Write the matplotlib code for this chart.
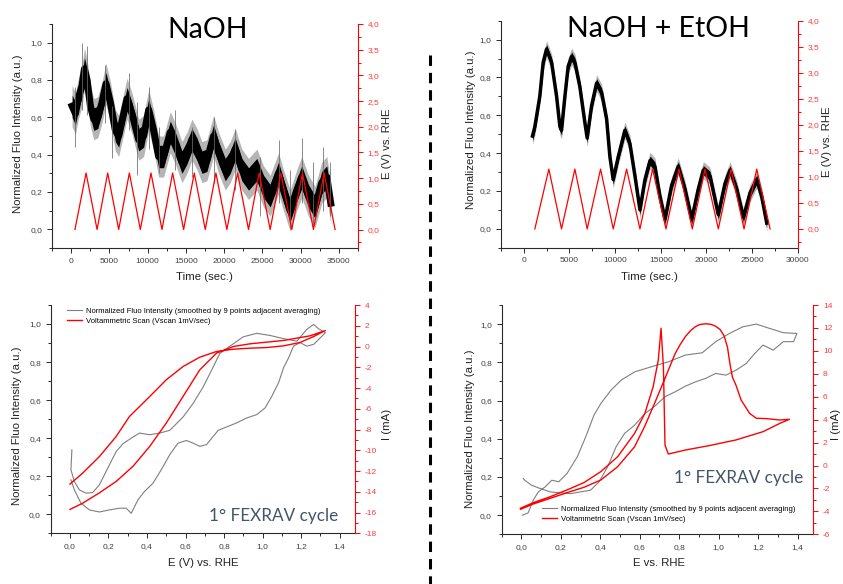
import matplotlib
matplotlib.use("Agg")
import matplotlib.pyplot as plt
from matplotlib.ticker import MultipleLocator, FuncFormatter
from matplotlib.lines import Line2D

# ---------------- DATA ----------------
# Top-left (NaOH): fluorescence band centre (time s, normalized intensity)
tl_t = [130, 560, 1000, 1430, 1740, 2090, 2520, 2960, 3480, 4040, 4560, 5130, 5780, 6220,
        6870, 7310, 7960, 8830, 9480, 10140, 10790, 11440, 12090, 12960, 13620, 14490, 15140,
        15790, 16450, 17100, 17750, 18620, 19280, 20150, 20800, 21450, 22320, 23190, 24280,
        25150, 26020, 27110, 27760, 28630, 29500, 30150, 31020, 31890, 32760, 33420, 33940]
tl_v = [0.66, 0.62, 0.71, 0.77, 0.86, 0.80, 0.66, 0.59, 0.60, 0.68, 0.78, 0.68, 0.53, 0.50,
        0.62, 0.70, 0.62, 0.48, 0.50, 0.64, 0.53, 0.39, 0.39, 0.52, 0.46, 0.36, 0.41,
        0.48, 0.43, 0.36, 0.37, 0.50, 0.41, 0.32, 0.36, 0.43, 0.32, 0.27, 0.32,
        0.23, 0.18, 0.30, 0.21, 0.10, 0.21, 0.28, 0.18, 0.12, 0.25, 0.28, 0.14]
# noise spikes (time, low, high)
tl_spk_t = [560, 1430, 2090, 4480, 5350, 7520, 8610, 10140, 11440, 13620, 15790, 18620,
            21450, 24710, 27110, 28630, 30150, 31680, 32980, 33850]
tl_spk_lo = [0.44, 0.64, 0.61, 0.57, 0.38, 0.53, 0.29, 0.43, 0.30, 0.32, 0.28, 0.25,
             0.21, 0.07, 0.14, 0.00, 0.14, 0.01, 0.10, 0.07]
tl_spk_hi = [0.76, 1.00, 0.98, 0.88, 0.66, 0.84, 0.68, 0.76, 0.55, 0.64, 0.55, 0.60,
             0.54, 0.39, 0.48, 0.32, 0.49, 0.36, 0.44, 0.36]
# Top-left potential triangle vertices (time s, E V)
tl_e_t = [500, 1954, 3390, 4782, 6218, 7611, 9047, 10440, 11876, 13268, 14704, 16097, 17533,
          18926, 20361, 21754, 23190, 24582, 26018, 27411, 28847, 30239, 31675, 33068, 34504]
tl_e_v = [0.0, 1.1, 0.0, 1.1, 0.0, 1.1, 0.0, 1.1, 0.0, 1.1, 0.0, 1.1, 0.0,
          1.1, 0.0, 1.1, 0.0, 1.1, 0.0, 1.1, 0.0, 1.1, 0.0, 1.1, 0.0]

# Top-right (NaOH + EtOH)
tr_t = [950, 1210, 1750, 2120, 2490, 3040, 3590, 3950, 4130, 4500, 4860, 5230, 5590, 6140,
        6690, 6940, 7420, 7970, 8520, 9070, 9430, 9790, 10340, 11070, 11620, 12170, 12720,
        13270, 13820, 14360, 14910, 15460, 16190, 16920, 17650, 18390, 19110, 19660, 20390,
        21300, 22040, 22590, 23320, 24050, 24780, 25510, 26060, 26610]
tr_v = [0.49, 0.54, 0.70, 0.88, 0.95, 0.88, 0.70, 0.54, 0.52, 0.70, 0.86, 0.91, 0.88, 0.75,
        0.56, 0.48, 0.65, 0.77, 0.72, 0.58, 0.38, 0.26, 0.38, 0.52, 0.45, 0.28, 0.10,
        0.26, 0.36, 0.33, 0.17, 0.05, 0.23, 0.33, 0.21, 0.05, 0.21, 0.31, 0.28,
        0.075, 0.24, 0.31, 0.21, 0.06, 0.19, 0.26, 0.17, 0.03]
tr_e_t = [1206, 2741, 4130, 5592, 6944, 8406, 9795, 11257, 12719, 14108, 15570, 16996, 18457,
          19846, 21308, 22697, 24123, 25512, 26974]
tr_e_v = [0.0, 1.15, 0.0, 1.15, 0.0, 1.15, 0.0, 1.15, 0.0, 1.15, 0.0, 1.15, 0.0,
          1.15, 0.0, 1.15, 0.0, 1.15, 0.0]

# Bottom-left (NaOH, 1st FEXRAV cycle)
bl_cv_E = [0.0, 0.066, 0.153, 0.24, 0.327, 0.414, 0.50, 0.587, 0.674, 0.761, 0.848, 0.935,
           1.108, 1.247, 1.326, 1.265, 1.195, 1.108, 1.022, 0.935, 0.848, 0.761, 0.674,
           0.587, 0.50, 0.414, 0.309, 0.24, 0.153, 0.066, 0.0]
bl_cv_I = [-15.7, -15.1, -14.1, -13.0, -11.55, -9.63, -7.38, -4.82, -2.25, -0.64, 0.0, 0.26,
           0.58, 1.03, 1.54, 0.96, 0.39, 0.06, -0.1, -0.16, -0.26, -0.48, -1.03,
           -1.93, -3.21, -4.82, -6.74, -8.67, -10.6, -12.2, -13.26]
bl_fl_E = [0.010, 0.005, 0.023, 0.049, 0.083, 0.118, 0.153, 0.205, 0.240, 0.275, 0.327, 0.361,
           0.414, 0.466, 0.518, 0.587, 0.639, 0.692, 0.744, 0.778, 0.831, 0.900, 0.970, 1.039,
           1.109, 1.178, 1.230, 1.265, 1.291, 1.326,
           1.300, 1.265, 1.230, 1.195, 1.161, 1.135, 1.109, 1.083, 1.048, 1.013, 0.970, 0.917,
           0.865, 0.813, 0.770, 0.744, 0.709, 0.674, 0.639, 0.605, 0.561, 0.518, 0.474, 0.431,
           0.387, 0.353, 0.318, 0.292, 0.257, 0.205, 0.153, 0.101, 0.057, 0.023, 0.005]
bl_fl_v = [0.339, 0.234, 0.172, 0.128, 0.111, 0.114, 0.155, 0.260, 0.330, 0.371, 0.406, 0.427,
           0.418, 0.427, 0.441, 0.511, 0.582, 0.670, 0.775, 0.845, 0.884, 0.933, 0.951, 0.940,
           0.923, 0.910, 0.972, 0.998, 0.975, 0.954,
           0.928, 0.893, 0.884, 0.902, 0.884, 0.822, 0.770, 0.691, 0.620, 0.559, 0.524, 0.506,
           0.480, 0.459, 0.441, 0.410, 0.366, 0.357, 0.374, 0.388, 0.374, 0.313, 0.234, 0.163,
           0.120, 0.076, 0.005, 0.032, 0.032, 0.023, 0.012, 0.023, 0.058, 0.128, 0.181]

# Bottom-right (NaOH + EtOH, 1st FEXRAV cycle)
br_cv_E = [-0.005, 0.06, 0.146, 0.231, 0.317, 0.403, 0.488, 0.574, 0.626, 0.668, 0.694, 0.708,
           0.72, 0.728, 0.745, 0.831, 0.951, 1.088, 1.225, 1.311, 1.359,
           1.311, 1.243, 1.191, 1.157, 1.114, 1.088, 1.070, 1.057, 1.045, 1.028, 1.008, 0.985,
           0.960, 0.934, 0.905, 0.883, 0.860, 0.831, 0.805, 0.78, 0.728, 0.677, 0.626, 0.574,
           0.488, 0.403, 0.317, 0.231, 0.146, 0.06, -0.005]
br_cv_I = [-3.73, -3.24, -2.72, -2.13, -1.49, -0.53, 0.77, 2.81, 4.55, 6.88, 9.2, 11.97,
           8.62, 1.79, 1.0, 1.35, 1.73, 2.23, 2.95, 3.68, 4.03,
           3.97, 4.09, 4.12, 4.55, 5.71, 7.0, 7.7, 8.9, 10.3, 11.3, 11.85, 12.15,
           12.32, 12.36, 12.3, 12.12, 11.8, 11.24, 10.55, 9.78, 7.6, 5.5, 3.45, 1.64,
           -0.1, -1.26, -1.9, -2.37, -2.86, -3.36, -3.82]
br_fl_E = [0.005, 0.034, 0.06, 0.086, 0.12, 0.154, 0.189, 0.231, 0.283, 0.326, 0.368, 0.403,
           0.454, 0.506, 0.574, 0.66, 0.746, 0.831, 0.917, 0.985, 1.054, 1.123, 1.191, 1.26,
           1.328, 1.397,
           1.38, 1.328, 1.277, 1.225, 1.183, 1.14, 1.088, 1.037, 0.985, 0.934, 0.883, 0.831,
           0.78, 0.728, 0.677, 0.626, 0.574, 0.523, 0.48, 0.437, 0.394, 0.351, 0.3, 0.249,
           0.197, 0.146, 0.094, 0.051, 0.017, 0.009]
br_fl_v = [0.0, 0.012, 0.079, 0.122, 0.148, 0.183, 0.175, 0.218, 0.305, 0.41, 0.524, 0.585,
           0.654, 0.707, 0.75, 0.777, 0.803, 0.838, 0.85, 0.908, 0.951, 0.986, 1.0, 0.977,
           0.955, 0.951,
           0.908, 0.908, 0.864, 0.89, 0.846, 0.794, 0.759, 0.733, 0.742, 0.716, 0.698, 0.675,
           0.646, 0.62, 0.571, 0.532, 0.471, 0.428, 0.358, 0.253, 0.175, 0.131, 0.122, 0.113,
           0.117, 0.122, 0.14, 0.157, 0.183, 0.192]

titles = ["NaOH", "NaOH + EtOH"]
legend_fluo = "Normalized Fluo Intensity (smoothed by 9 points adjacent averaging)"
legend_cv = "Voltammetric Scan (Vscan 1mV/sec)"
cycle_label = "1\u00b0 FEXRAV cycle"

# ---------------- STYLE ----------------
W, H = 843, 584
plt.rcParams['font.family'] = ['Liberation Sans', 'DejaVu Sans']
plt.rcParams['lines.scale_dashes'] = False
plt.rcParams['axes.unicode_minus'] = False
RED = '#ff0000'
RED_T = '#ff3a3a'
DARK = '#2a2a2a'
GRAY_T = '#404040'

fig = plt.figure(figsize=(W / 100, H / 100), dpi=100)


def px_axes(l, t, r, b):
    return fig.add_axes([l / W, 1 - b / H, (r - l) / W, (b - t) / H])


def ftext(x, y, s, **kw):
    fig.text(x / W, 1 - y / H, s, **kw)


def comma(fmt):
    return FuncFormatter(lambda v, p: (fmt % v).replace('.', ','))


def intfmt():
    return FuncFormatter(lambda v, p: '%d' % round(v))


def style_left(ax):
    for s in ['top', 'right']:
        ax.spines[s].set_visible(False)
    for s in ['left', 'bottom']:
        ax.spines[s].set_color(DARK)
        ax.spines[s].set_linewidth(0.8)
    ax.tick_params(which='both', direction='out', colors=DARK, labelcolor=GRAY_T,
                   labelsize=6.0, width=0.7)
    ax.tick_params(which='major', length=3.5)
    ax.tick_params(which='minor', length=2.0)


def style_right(ax2):
    for s in ['top', 'left', 'bottom']:
        ax2.spines[s].set_visible(False)
    ax2.spines['right'].set_color(RED)
    ax2.spines['right'].set_linewidth(0.8)
    ax2.tick_params(which='both', direction='out', colors=RED, labelcolor=RED_T,
                    labelsize=6.0, width=0.7)
    ax2.tick_params(which='major', length=3.5)
    ax2.tick_params(which='minor', length=2.0)


def band(ax, t, v, core, outer, lw):
    lo1 = [a - outer for a in v]
    hi1 = [a + outer for a in v]
    lo2 = [a - core for a in v]
    hi2 = [a + core for a in v]
    ax.fill_between(t, lo1, hi1, color='#a8a8a8', lw=0, alpha=0.85)
    ax.fill_between(t, lo2, hi2, color='black', lw=0)
    ax.plot(t, v, color='black', lw=lw, solid_joinstyle='round')


# ---------- Top-left ----------
ax = px_axes(52, 24, 358, 248)
style_left(ax)
band(ax, tl_t, tl_v, 0.06, 0.11, 5.0)
ax.vlines(tl_spk_t, tl_spk_lo, tl_spk_hi, color='#6a6a6a', lw=0.55)
ax.set_xlim(-2500, 37500)
ax.set_ylim(-0.1, 1.1)
ax.xaxis.set_major_locator(MultipleLocator(5000))
ax.xaxis.set_minor_locator(MultipleLocator(2500))
ax.xaxis.set_major_formatter(intfmt())
ax.yaxis.set_major_locator(MultipleLocator(0.2))
ax.yaxis.set_minor_locator(MultipleLocator(0.1))
ax.yaxis.set_major_formatter(comma('%.1f'))
ax2 = ax.twinx()
style_right(ax2)
ax2.plot(tl_e_t, tl_e_v, color=RED, lw=0.9)
ax2.set_ylim(-0.36, 4.0)
ax2.yaxis.set_major_locator(MultipleLocator(0.5))
ax2.yaxis.set_minor_locator(MultipleLocator(0.25))
ax2.yaxis.set_major_formatter(comma('%.1f'))

# ---------- Top-right ----------
ax = px_axes(501, 20.7, 797.7, 247.7)
style_left(ax)
band(ax, tr_t, tr_v, 0.024, 0.045, 2.5)
ax.set_xlim(-2500, 30000)
ax.set_ylim(-0.1, 1.1)
ax.xaxis.set_major_locator(MultipleLocator(5000))
ax.xaxis.set_minor_locator(MultipleLocator(2500))
ax.xaxis.set_major_formatter(intfmt())
ax.yaxis.set_major_locator(MultipleLocator(0.2))
ax.yaxis.set_minor_locator(MultipleLocator(0.1))
ax.yaxis.set_major_formatter(comma('%.1f'))
ax2 = ax.twinx()
style_right(ax2)
ax2.plot(tr_e_t, tr_e_v, color=RED, lw=0.9)
ax2.set_ylim(-0.36, 4.0)
ax2.yaxis.set_major_locator(MultipleLocator(0.5))
ax2.yaxis.set_minor_locator(MultipleLocator(0.25))
ax2.yaxis.set_major_formatter(comma('%.1f'))

# ---------- Bottom-left ----------
ax = px_axes(50.7, 305, 355, 533.3)
style_left(ax)
l1, = ax.plot(bl_fl_E, bl_fl_v, color='#7f7f7f', lw=0.8)
ax.set_xlim(-0.1, 1.48)
ax.set_ylim(-0.1, 1.1)
ax.xaxis.set_major_locator(MultipleLocator(0.2))
ax.xaxis.set_minor_locator(MultipleLocator(0.1))
ax.yaxis.set_major_locator(MultipleLocator(0.2))
ax.yaxis.set_minor_locator(MultipleLocator(0.1))
ax.xaxis.set_major_formatter(comma('%.1f'))
ax.yaxis.set_major_formatter(comma('%.1f'))
ax2 = ax.twinx()
style_right(ax2)
l2, = ax2.plot(bl_cv_E, bl_cv_I, color=RED, lw=1.0)
ax2.set_ylim(-18, 4)
ax2.yaxis.set_major_locator(MultipleLocator(2))
ax2.yaxis.set_minor_locator(MultipleLocator(1))
ax2.yaxis.set_major_formatter(intfmt())
ax2.legend([l1, l2], [legend_fluo, legend_cv], loc='upper left',
           bbox_to_anchor=(0.052, 0.99), frameon=False, fontsize=5.5,
           borderpad=0, borderaxespad=0, handlelength=2.0, handletextpad=0.5,
           labelspacing=0.35)

# ---------- Bottom-right ----------
ax = px_axes(501.7, 305, 813.3, 534.3)
style_left(ax)
l1, = ax.plot(br_fl_E, br_fl_v, color='#7f7f7f', lw=0.8)
ax.set_xlim(-0.1, 1.48)
ax.set_ylim(-0.1, 1.1)
ax.xaxis.set_major_locator(MultipleLocator(0.2))
ax.xaxis.set_minor_locator(MultipleLocator(0.1))
ax.yaxis.set_major_locator(MultipleLocator(0.2))
ax.yaxis.set_minor_locator(MultipleLocator(0.1))
ax.xaxis.set_major_formatter(comma('%.1f'))
ax.yaxis.set_major_formatter(comma('%.1f'))
ax2 = ax.twinx()
style_right(ax2)
l2, = ax2.plot(br_cv_E, br_cv_I, color=RED, lw=1.0)
ax2.set_ylim(-6, 14)
ax2.yaxis.set_major_locator(MultipleLocator(2))
ax2.yaxis.set_minor_locator(MultipleLocator(1))
ax2.yaxis.set_major_formatter(intfmt())
ax2.legend([l1, l2], [legend_fluo, legend_cv], loc='upper left',
           bbox_to_anchor=(0.128, 0.125), frameon=False, fontsize=5.5,
           borderpad=0, borderaxespad=0, handlelength=2.0, handletextpad=0.5,
           labelspacing=0.35)

# ---------- Texts ----------
LBL = dict(fontsize=8.2, color='#222222', ha='center', va='center')
ftext(18.3, 133.7, "Normalized Fluo Intensity (a.u.)", rotation=90, **LBL)
ftext(204.5, 276.7, "Time (sec.)", **LBL)
ftext(387.3, 143.3, "E (V) vs. RHE", rotation=90, **LBL)
ftext(471, 130, "Normalized Fluo Intensity (a.u.)", rotation=90, **LBL)
ftext(649, 276.7, "Time (sec.)", **LBL)
ftext(827.3, 141.7, "E (V) vs. RHE", rotation=90, **LBL)
ftext(16.7, 425.7, "Normalized Fluo Intensity (a.u.)", rotation=90, **LBL)
ftext(202.8, 563.3, "E (V) vs. RHE", **LBL)
ftext(386.7, 424, "I (mA)", rotation=90, **LBL)
ftext(470, 428.3, "Normalized Fluo Intensity (a.u.)", rotation=90, **LBL)
ftext(658.7, 563.3, "E vs. RHE", **LBL)
ftext(836.0, 424, "I (mA)", rotation=90, **LBL)

TT = dict(fontsize=20.5, color='black', ha='center', va='baseline', family=['Lato', 'DejaVu Sans'])
ftext(208, 37.7, titles[0], **TT)
ftext(658, 36.7, titles[1], **TT)

CY = dict(fontsize=12.3, color='#44546a', ha='center', va='baseline', family=['Lato', 'DejaVu Sans'])
ftext(273.3, 520.7, cycle_label, **CY)
ftext(738.8, 482.7, cycle_label, **CY)

# dashed separator
fig.add_artist(Line2D([430 / W, 430 / W], [1 - 55 / H, 0.0], transform=fig.transFigure,
                      color='black', lw=2.2, linestyle=(0, (7.5, 5.0))))

fig.savefig("out.png", dpi=100)
